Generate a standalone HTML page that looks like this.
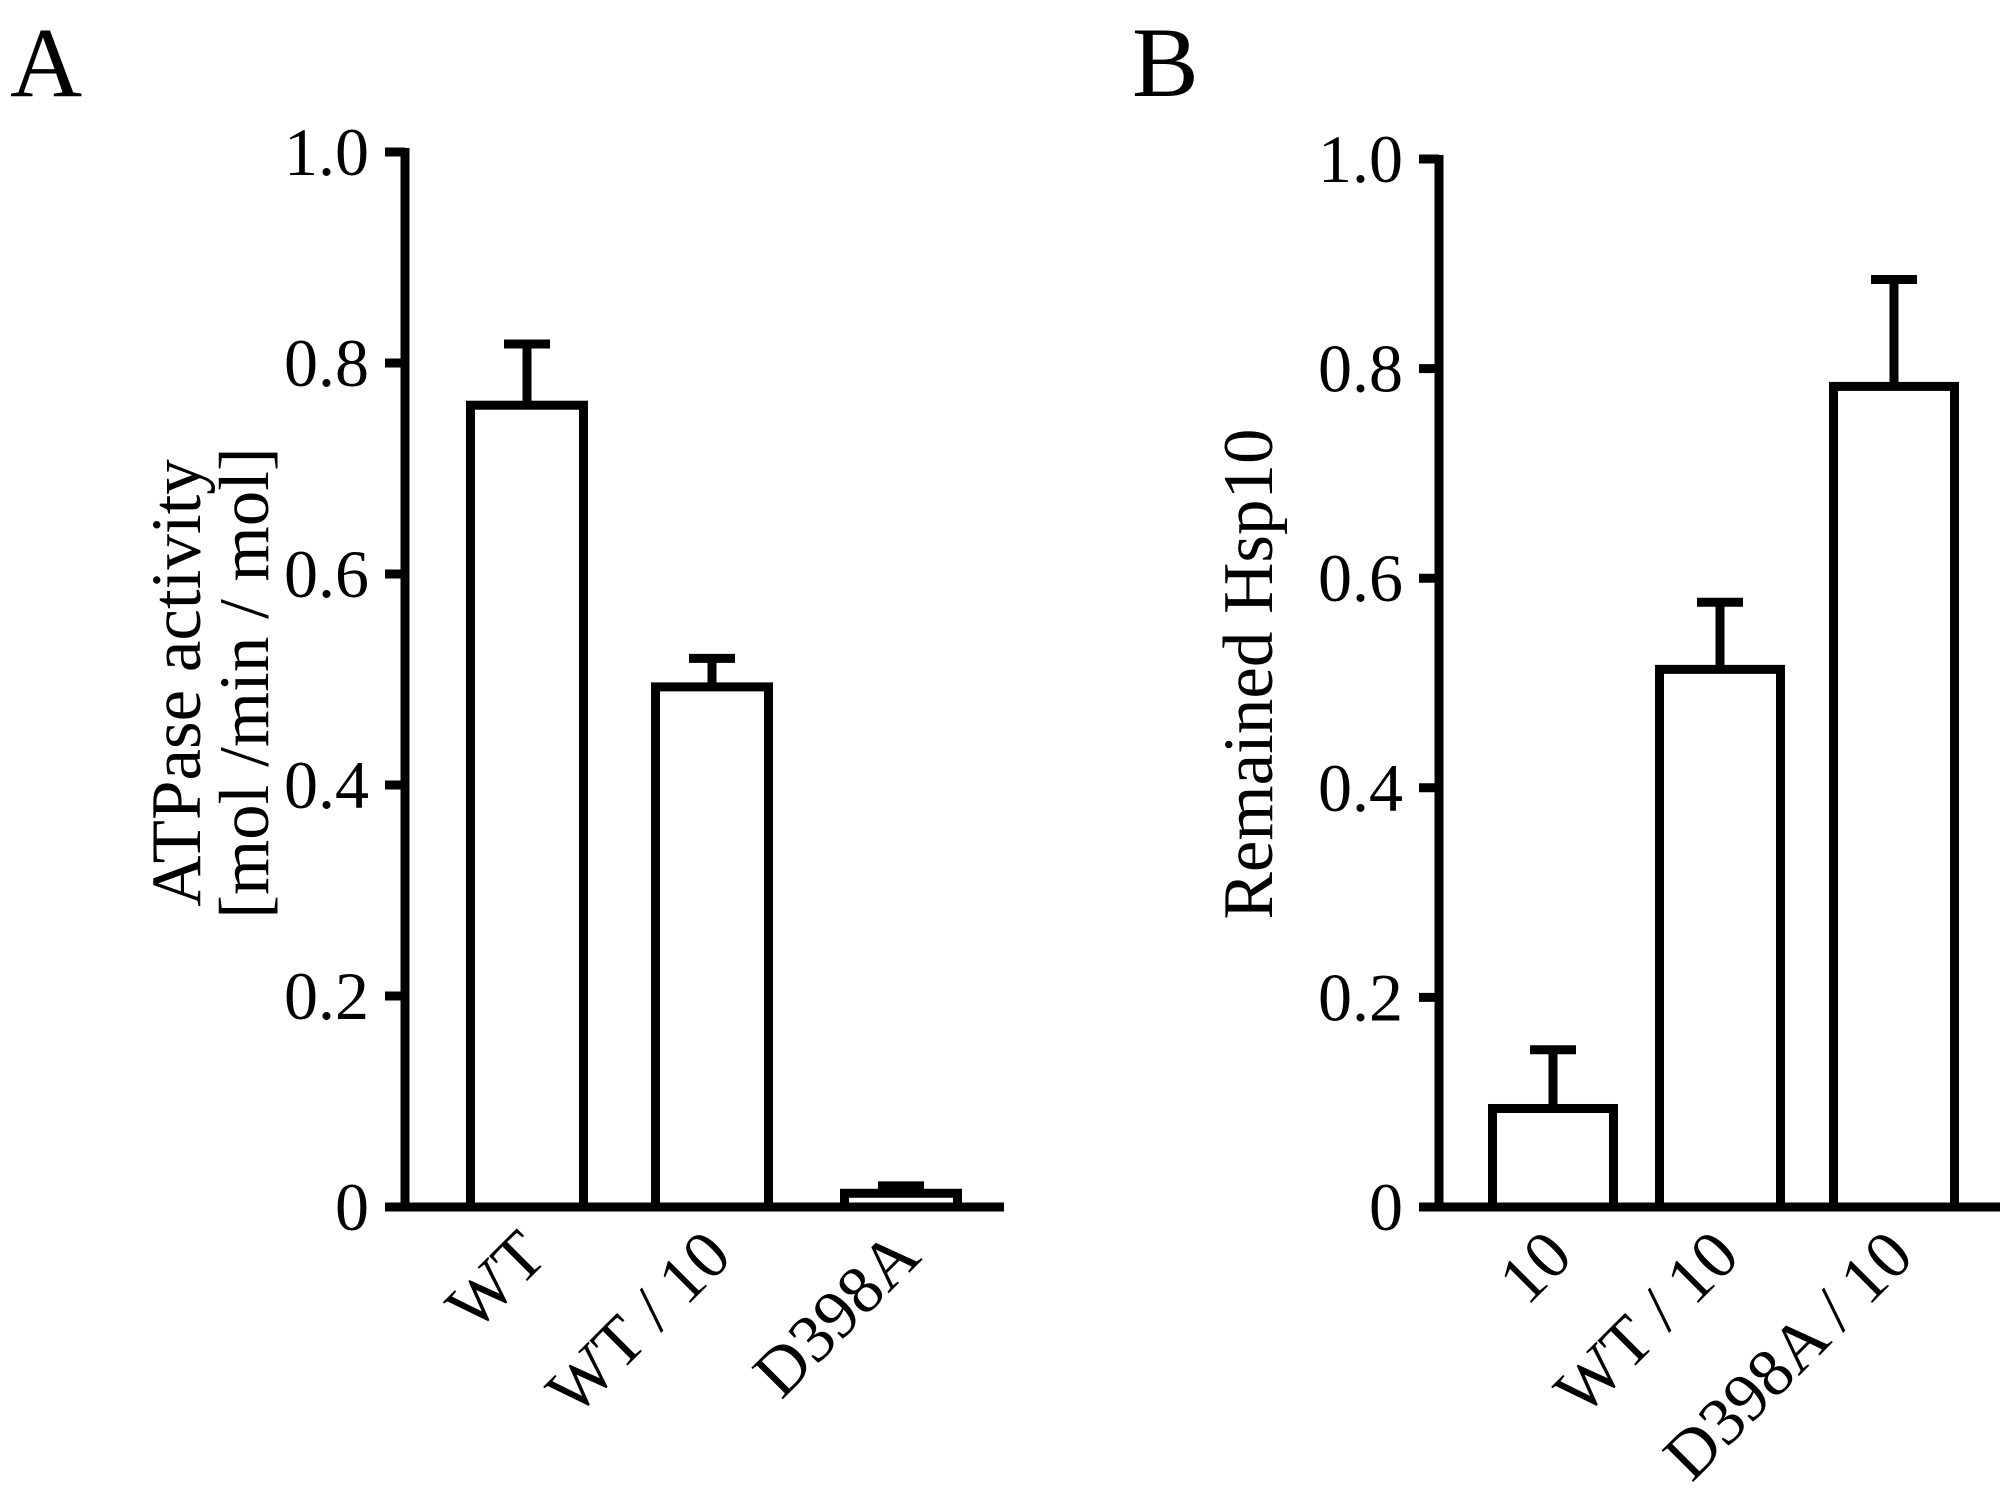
<!DOCTYPE html>
<html><head><meta charset="utf-8"><style>
html,body{margin:0;padding:0;background:#fff;}
svg{display:block;font-family:"Liberation Serif",serif;}
</style></head><body>
<svg id="fig" width="2015" height="1488" viewBox="0 0 2015 1488">
<text x="10" y="96" font-size="100">A</text>
<text x="1132" y="96" font-size="100">B</text>
<g id="pa"></g>
<g id="pb"></g>
</svg>
<script>
const catsA = ["WT", "WT / 10", "D398A"];
const valsA = [0.76, 0.493, 0.013];
const errA = [0.058, 0.027, 0.007];
const catsB = ["10", "WT / 10", "D398A / 10"];
const valsB = [0.094, 0.513, 0.783];
const errB = [0.056, 0.064, 0.102];
const ticks = [0, 0.2, 0.4, 0.6, 0.8, 1.0];
const tickLabels = ["0", "0.2", "0.4", "0.6", "0.8", "1.0"];

const NS = "http://www.w3.org/2000/svg";
function mk(parent, tag, attrs, text){
  const e = document.createElementNS(NS, tag);
  for (const k in attrs) e.setAttribute(k, attrs[k]);
  if (text !== undefined) e.textContent = text;
  parent.appendChild(e);
  return e;
}
function panel(g, cfg, cats, vals, errs, titleLines, key){
  const y = v => cfg.y0 - v * (cfg.y0 - cfg.y1);
  const sw = 9;
  let e = mk(g, "line", {x1: cfg.ax, y1: y(1) - 4, x2: cfg.ax, y2: cfg.y0 + 4, stroke: "#000", "stroke-width": sw});
  
  
  e = mk(g, "line", {x1: cfg.ax - 4, y1: cfg.y0, x2: cfg.xEnd, y2: cfg.y0, stroke: "#000", "stroke-width": sw});
  
  
  ticks.forEach((t, i) => {
    const tl = mk(g, "line", {x1: cfg.ax - 20, y1: y(t), x2: cfg.ax, y2: y(t), stroke: "#000", "stroke-width": sw});
    
    
    const tx = mk(g, "text", {x: cfg.ax - 36, y: y(t) + 23, "font-size": 68, "text-anchor": "end"}, tickLabels[i]);
    
    
  });
  cats.forEach((c, i) => {
    const x0 = cfg.bx[i], w = cfg.bw;
    const cx = x0 + w / 2;
    const top = y(vals[i]);
    const et = y(vals[i] + errs[i]);
    const eb = mk(g, "line", {x1: cx, y1: top, x2: cx, y2: et, stroke: "#000", "stroke-width": sw});
    
    
    const cap = mk(g, "line", {x1: cx - 23, y1: et, x2: cx + 23, y2: et, stroke: "#000", "stroke-width": sw});
    
    
    const r = mk(g, "rect", {x: x0 + sw/2, y: top, width: w - sw, height: cfg.y0 - top, fill: "#fff", stroke: "#000", "stroke-width": sw});
    
    
    const lx = cx + 22, ly = cfg.y0 + 52;
    const t = mk(g, "text", {x: lx, y: ly, "font-size": 68, "text-anchor": "end", transform: `rotate(-45 ${lx} ${ly})`}, c);
    
    
  });
  titleLines.forEach((s, i) => {
    const tx = cfg.tx[i], ty = cfg.ty;
    const t = mk(g, "text", {x: tx, y: ty, "font-size": 71, "text-anchor": "middle", transform: `rotate(-90 ${tx} ${ty})`}, s);
    
    
  });
}
panel(document.getElementById("pa"),
  {ax: 405, y0: 1207, y1: 152, xEnd: 1004, bx: [466, 651, 840], bw: 122, tx: [200, 268], ty: 683},
  catsA, valsA, errA, ["ATPase activity", "[mol /min / mol]"], "panel-a");
panel(document.getElementById("pb"),
  {ax: 1439, y0: 1207, y1: 159, xEnd: 2000, bx: [1488, 1655, 1829], bw: 130, tx: [1272], ty: 674},
  catsB, valsB, errB, ["Remained Hsp10"], "panel-b");
</script>
</body></html>
